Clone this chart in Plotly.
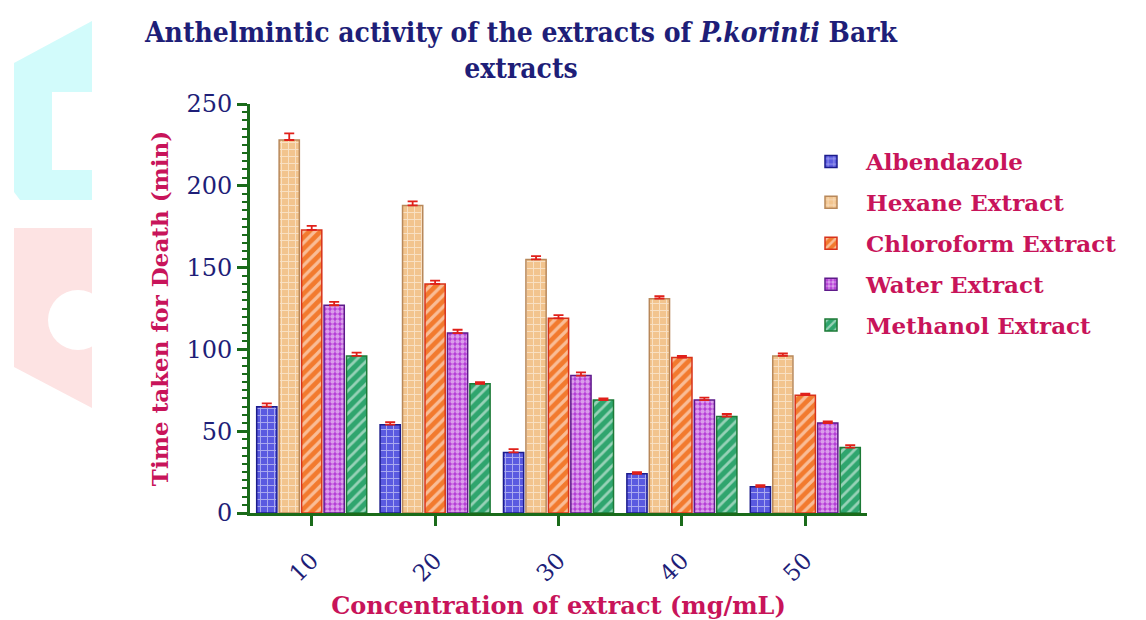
import plotly.graph_objects as go

# ---- data ----
concentrations = ["10", "20", "30", "40", "50"]
series_names = ["Albendazole", "Hexane Extract", "Chloroform Extract", "Water Extract", "Methanol Extract"]
albendazole = [65, 54, 37, 24, 16]
hexane = [228, 188, 155, 131, 96]
chloroform = [173, 140, 119, 95, 72]
water = [127, 110, 84, 69, 55]
methanol = [96, 79, 69, 59, 40]
err_albendazole = [2, 1.5, 2, 1, 1]
err_hexane = [4, 2.5, 2, 1.5, 1.5]
err_chloroform = [2.5, 2, 2, 1, 1]
err_water = [2, 2, 2, 1.5, 1]
err_methanol = [2, 1, 1, 1.5, 1.5]

values = [albendazole, hexane, chloroform, water, methanol]
errors = [err_albendazole, err_hexane, err_chloroform, err_water, err_methanol]

# ---- styles ----
fills = ["#5a5ae0", "#f2c48e", "#f27a2e", "#b43ad6", "#2fa56e"]
outlines = ["#1c1c8c", "#b8885a", "#d8321a", "#5e1a8a", "#1c7a36"]
patterns = ["+", "+", "/", ".", "/"]
pat_sizes = [7, 7, 8, 5, 8]
pat_solid = [0.25, 0.25, 0.4, 0.6, 0.35]

crimson = "#c8145a"
navy = "#1e1e78"
green = "#1a6b1a"

fig = go.Figure()
for i, name in enumerate(series_names):
    fig.add_trace(go.Bar(
        x=concentrations, y=values[i], name=name,
        legendgroup=name,
        marker=dict(
            color=fills[i],
            line=dict(color=outlines[i], width=1.5),
            pattern=dict(shape=patterns[i], fillmode="overlay", bgcolor=fills[i],
                         fgcolor="white", size=pat_sizes[i], solidity=pat_solid[i]),
        ),
        error_y=dict(type="data", symmetric=False, array=errors[i],
                     arrayminus=[0] * len(errors[i]), color="#e0201a",
                     thickness=1.8, width=5),
    ))

# faint watermark shapes at the left edge (background decoration)
W = 617.0
H = 409.0
def px(x):
    return (x - 250) / W
def py(y):
    return (513 - y) / H

cyan_path = (f"M {px(14)},{py(63)} L {px(92)},{py(21)} L {px(92)},{py(200)} "
             f"L {px(20)},{py(200)} L {px(14)},{py(192)} Z")
pink_path = (f"M {px(14)},{py(228)} L {px(92)},{py(228)} L {px(92)},{py(408)} "
             f"L {px(14)},{py(367)} Z")
shapes = [
    dict(type="path", path=cyan_path, xref="paper", yref="paper",
         fillcolor="#d2fbfb", line=dict(width=0), layer="below"),
    dict(type="path", path=pink_path, xref="paper", yref="paper",
         fillcolor="#fde3e3", line=dict(width=0), layer="below"),
    dict(type="rect", xref="paper", yref="paper", x0=px(52), x1=px(92), y0=py(170), y1=py(92),
         fillcolor="white", line=dict(width=0), layer="below"),
    dict(type="circle", xref="paper", yref="paper", x0=px(48), x1=px(108), y0=py(350), y1=py(290),
         fillcolor="white", line=dict(width=0), layer="below"),
]

fig.update_layout(
    width=1146, height=620,
    paper_bgcolor="white", plot_bgcolor="white",
    margin=dict(l=250, r=279, t=104, b=107, autoexpand=False),
    barmode="group", bargap=0.09, bargroupgap=0.1,
    shapes=shapes,
    title=dict(
        text="Anthelmintic activity of the extracts of <i>P.korinti</i> Bark<br>extracts",
        x=521 / 1146, xanchor="center", y=1 - 42 / 620, yanchor="middle",
        font=dict(family="DejaVu Serif Condensed", size=28, color=navy, weight="bold"),
    ),
    legend=dict(
        x=px(796), y=py(140), xanchor="left", yanchor="top",
        font=dict(family="DejaVu Serif", size=23, color=crimson, weight="bold"),
        tracegroupgap=8, itemwidth=60, bgcolor="rgba(0,0,0,0)",
    ),
    showlegend=True,
)

fig.update_xaxes(
    type="category", range=[-0.5, 4.5], automargin=False,
    showline=True, linecolor=green, linewidth=3,
    ticks="outside", ticklen=10, tickwidth=3, tickcolor=green,
    tickangle=-45, ticklabelstandoff=12,
    tickfont=dict(family="DejaVu Serif", size=23, color=navy),
    showgrid=False, zeroline=False,
    title=dict(text="Concentration of extract (mg/mL)", standoff=14,
               font=dict(family="DejaVu Serif", size=24, color=crimson, weight="bold")),
)
fig.update_yaxes(
    range=[0, 250], tickmode="linear", tick0=0, dtick=50, automargin=False,
    showline=True, linecolor=green, linewidth=3,
    ticks="outside", ticklen=10, tickwidth=3, tickcolor=green,
    minor=dict(ticks="outside", dtick=5, ticklen=5, tickwidth=2, tickcolor=green),
    tickfont=dict(family="DejaVu Serif", size=24, color=navy),
    showgrid=False, zeroline=False,
    title=dict(text="Time taken for Death (min)", standoff=12,
               font=dict(family="DejaVu Serif", size=23, color=crimson, weight="bold")),
)

fig.write_html("out.html", config={"displayModeBar": False},
               post_script="document.body.style.margin='0';")
